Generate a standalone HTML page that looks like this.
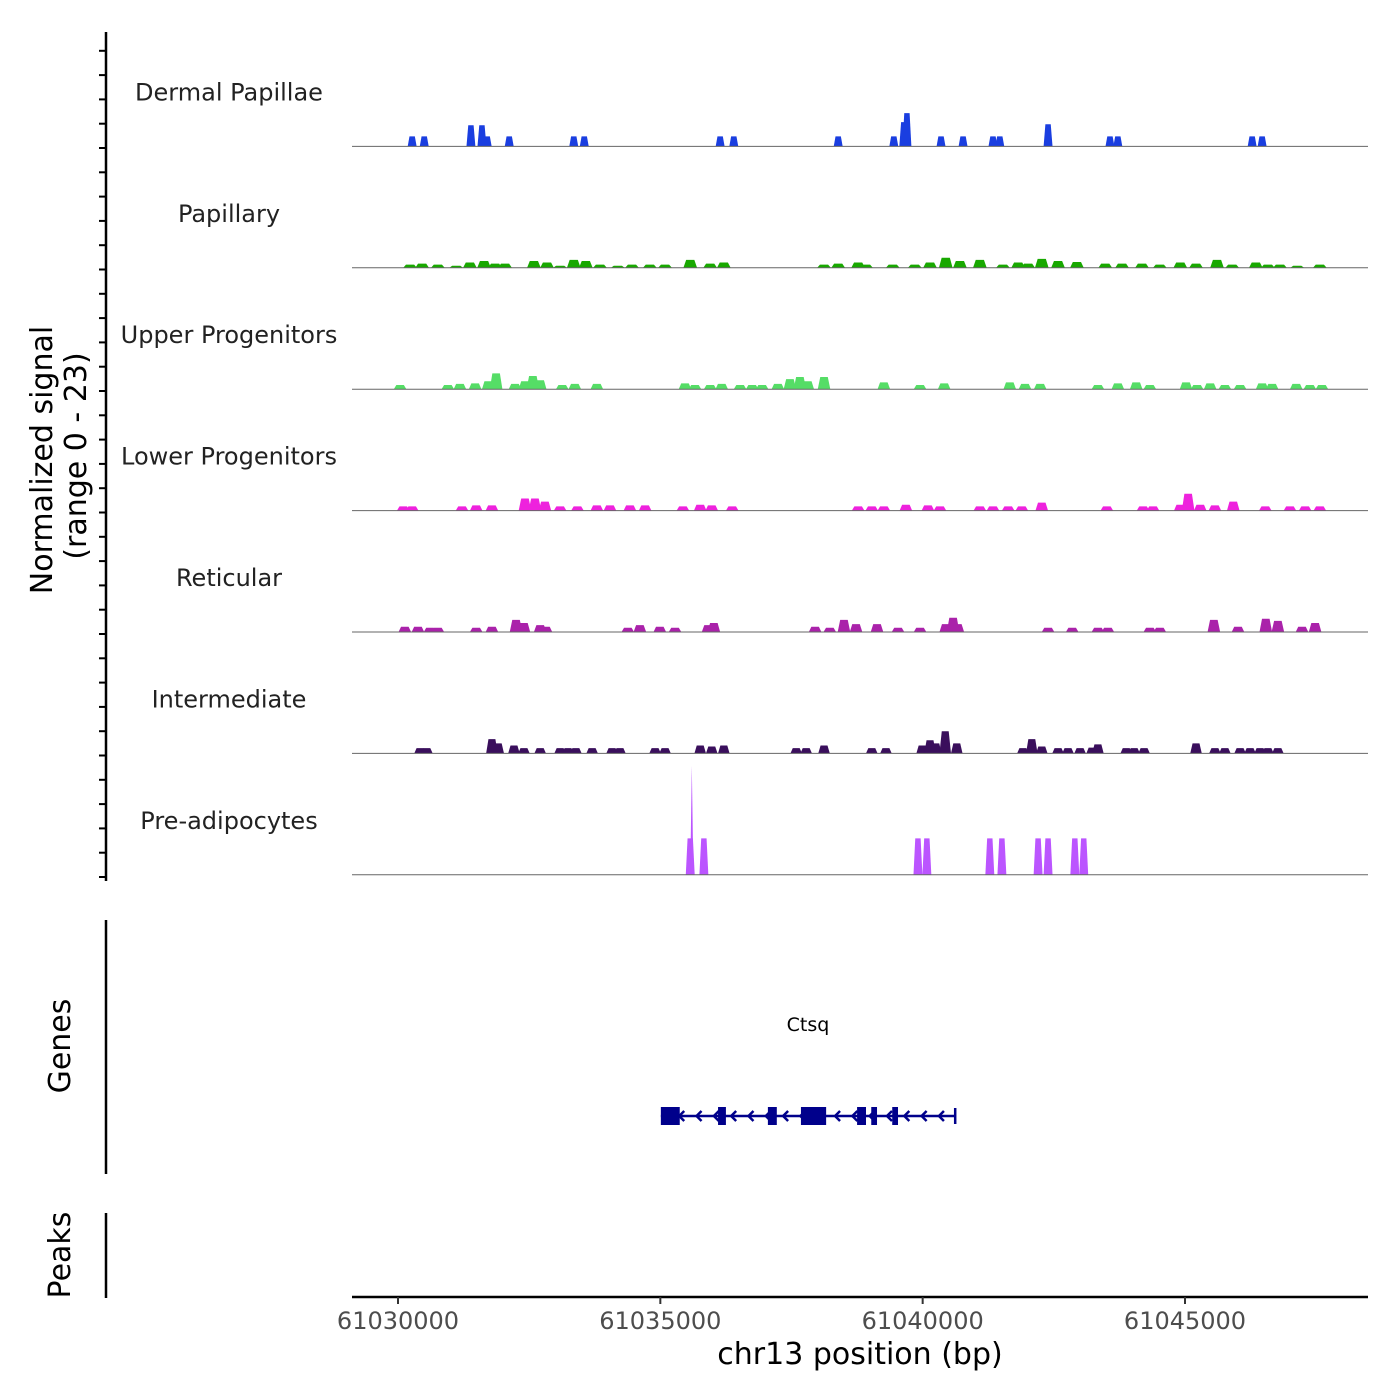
<!DOCTYPE html>
<html><head><meta charset="utf-8"><style>
html,body{margin:0;padding:0;background:#fff;}
svg{display:block;font-family:"DejaVu Sans","Liberation Sans",sans-serif;}
</style></head><body>
<svg id="chart" width="1400" height="1400" viewBox="0 0 1400 1400" xmlns="http://www.w3.org/2000/svg">
<g id="tracks"></g>
<g id="ylabels"></g>
<line x1="106" y1="32" x2="106" y2="881" stroke="#000" stroke-width="2.5"/>
<g id="yticks"></g>
<text transform="translate(52,460) rotate(-90)" text-anchor="middle" font-size="30">Normalized signal</text>
<text transform="translate(86,456) rotate(-90)" text-anchor="middle" font-size="30">(range 0 - 23)</text>
<line x1="106" y1="920" x2="106" y2="1174" stroke="#000" stroke-width="2.5"/>
<text transform="translate(70,1046) rotate(-90)" text-anchor="middle" font-size="30">Genes</text>
<g id="gene"></g>
<line x1="106" y1="1213" x2="106" y2="1298" stroke="#000" stroke-width="2.5"/>
<text transform="translate(70,1255) rotate(-90)" text-anchor="middle" font-size="30">Peaks</text>
<line x1="352" y1="1297" x2="1368" y2="1297" stroke="#000" stroke-width="2.5"/>
<g id="xticks"></g>
<text x="860" y="1364" text-anchor="middle" font-size="30">chr13 position (bp)</text>
</svg>
<script>
const regionStart = 61030000;
const xTickValues = [61030000, 61035000, 61040000, 61045000];
const trackNames = ["Dermal Papillae","Papillary","Upper Progenitors","Lower Progenitors","Reticular","Intermediate","Pre-adipocytes"];
const trackColors = ["#1a3ee0","#18a800","#55dd66","#ee22dd","#aa22aa","#3a0f5c","#bb55ff"];
const yMax = 23;
// positions in kb offset from regionStart, heights in normalized signal
const dpPos = [0.27,0.50,1.39,1.60,1.70,2.12,3.35,3.55,6.14,6.40,8.39,9.45,9.64,9.70,10.35,10.77,11.34,11.47,12.39,13.57,13.72,16.28,16.47];
const dpVal = [1.9,1.9,4,4,1.9,1.9,1.9,1.9,1.9,1.9,1.9,1.9,4.6,6.3,1.9,1.9,1.9,1.9,4.2,1.9,1.9,1.9,1.9];
const papPos = [0.23,0.46,0.76,1.11,1.37,1.64,1.85,2.04,2.59,2.84,3.09,3.35,3.58,3.85,4.19,4.46,4.80,5.09,5.57,5.95,6.21,8.12,8.39,8.77,8.92,9.43,9.85,10.14,10.44,10.71,11.09,11.53,11.82,12.01,12.27,12.58,12.94,13.48,13.80,14.18,14.52,14.91,15.21,15.61,15.90,16.35,16.58,16.81,17.14,17.57];
const papVal = [0.6,0.8,0.6,0.4,1.0,1.3,0.8,0.8,1.3,1.0,0.4,1.5,1.3,0.6,0.4,0.6,0.6,0.6,1.5,0.8,1.0,0.6,0.8,1.0,0.6,0.6,0.6,1.0,1.9,1.3,1.5,0.6,1.0,0.8,1.7,1.3,1.1,0.8,0.8,0.8,0.6,1.0,0.8,1.5,0.6,1.0,0.6,0.6,0.4,0.6];
const upPos = [0.04,0.95,1.18,1.47,1.72,1.87,2.23,2.42,2.57,2.71,3.13,3.37,3.79,5.47,5.66,5.95,6.17,6.52,6.75,6.94,7.24,7.47,7.66,7.81,8.12,9.26,9.95,10.41,11.66,11.95,12.24,13.34,13.72,14.07,14.33,15.02,15.23,15.48,15.76,16.05,16.47,16.66,17.12,17.38,17.61];
const upVal = [0.8,0.8,1.0,1.1,1.5,3.0,1.0,1.5,2.5,1.7,0.8,1.0,1.0,1.1,0.8,0.8,1.0,0.8,0.8,0.8,1.0,1.9,2.3,1.5,2.3,1.3,0.8,1.1,1.3,1.0,1.0,0.8,1.1,1.3,0.8,1.3,0.8,1.1,0.8,0.8,1.1,1.0,1.0,0.8,0.8];
const lowPos = [0.10,0.27,1.22,1.49,1.79,2.42,2.61,2.80,3.09,3.42,3.79,4.04,4.42,4.71,5.43,5.76,5.98,6.37,8.77,9.03,9.26,9.68,10.10,10.33,11.09,11.34,11.63,11.89,12.27,13.51,14.20,14.39,14.91,15.06,15.29,15.57,15.92,16.53,17.00,17.29,17.57];
const lowVal = [0.8,0.8,0.8,1.0,1.0,2.3,2.3,1.7,0.8,0.8,1.0,1.0,1.0,1.0,0.8,1.1,1.0,0.8,0.8,0.8,0.8,1.1,1.0,0.8,0.8,0.8,0.8,0.8,1.5,0.8,0.8,0.8,1.1,3.2,1.1,1.0,1.7,0.8,0.8,0.8,0.8];
const retPos = [0.13,0.38,0.61,0.76,1.49,1.79,2.25,2.40,2.71,2.82,4.38,4.61,4.99,5.28,5.91,6.02,7.95,8.23,8.50,8.73,9.13,9.53,9.95,10.44,10.58,10.67,12.39,12.85,13.34,13.53,14.33,14.52,15.55,16.01,16.54,16.77,17.23,17.48];
const retVal = [1.0,1.0,0.8,0.8,0.8,1.0,2.3,1.7,1.3,1.0,0.8,1.3,1.0,0.8,1.3,1.7,1.0,0.8,2.3,1.5,1.5,0.8,0.8,1.5,2.7,1.5,0.8,0.8,0.8,0.8,0.8,0.8,2.3,1.0,2.5,2.1,1.0,1.7];
const intPos = [0.42,0.55,1.79,1.91,2.21,2.40,2.71,3.09,3.24,3.39,3.70,4.08,4.23,4.90,5.09,5.76,5.98,6.21,7.59,7.78,8.12,9.03,9.30,9.99,10.14,10.25,10.43,10.65,11.91,12.08,12.27,12.58,12.77,13.00,13.23,13.34,13.88,14.03,14.22,15.21,15.57,15.76,16.05,16.24,16.43,16.58,16.77];
const intVal = [1.0,1.0,2.7,1.9,1.5,1.0,1.0,1.0,1.0,1.0,1.0,1.0,1.0,1.0,1.0,1.5,1.3,1.5,1.0,1.0,1.5,1.0,1.0,1.5,2.5,1.9,4.2,1.9,1.0,2.7,1.3,1.0,1.0,1.0,1.1,1.7,1.0,1.0,1.0,1.9,1.0,1.0,1.0,1.0,1.0,1.0,1.0];
const prePos = [5.57,5.60,5.83,9.91,10.08,11.28,11.51,12.20,12.39,12.90,13.07];
const preVal = [6.9,20.7,6.9,6.9,6.9,6.9,6.9,6.9,6.9,6.9,6.9];
const trackPos = [dpPos,papPos,upPos,lowPos,retPos,intPos,prePos];
const trackVal = [dpVal,papVal,upVal,lowVal,retVal,intVal,preVal];
const trackWidthKb = [0.17,0.26,0.24,0.24,0.24,0.22,0.17];
const geneName = "Ctsq";
const geneStartKb = 5.01, geneEndKb = 10.62;
const exonStartKb = [5.01,6.10,7.05,7.68,8.75,9.02,9.42];
const exonEndKb = [5.37,6.25,7.22,8.16,8.92,9.13,9.53];

const NS = "http://www.w3.org/2000/svg";
function xScale(bp){ return 398 + (bp - 61030000) * (1185 - 398) / 15000; }
function xKb(kb){ return xScale(regionStart + kb * 1000); }
const trackTop = 25, trackH = 121.4;
function baseY(i){ return trackTop + (i + 1) * trackH; }
function yScale(i, v){ return baseY(i) - v / yMax * trackH; }
function mk(tag, attrs, parent){ const e = document.createElementNS(NS, tag); for (const k in attrs) e.setAttribute(k, attrs[k]); parent.appendChild(e); return e; }

const tracks = document.getElementById('tracks');
const ylabels = document.getElementById('ylabels');
trackNames.forEach((name, i) => {
  const g = mk('g', {}, tracks);
  
  
  const pos = trackPos[i], val = trackVal[i];
  pos.forEach((p, j) => {
    const spike = (i === 6 && val[j] > 10);
    const hw = spike ? 0.03 : trackWidthKb[i] / 2;
    const x0 = xKb(p - hw), x1 = xKb(p + hw);
    const tw = (x1 - x0) * 0.2;
    const yb = baseY(i), yt = yScale(i, val[j]);
    const pts = spike
      ? `${x0},${yb} ${(x0 + x1) / 2},${yt} ${x1},${yb}`
      : `${x0},${yb} ${x0 + tw},${yt} ${x1 - tw},${yt} ${x1},${yb}`;
    const el = mk('polygon', { points: pts, fill: trackColors[i] }, g);
    
    
  });
  const bl = mk('line', { x1: 352, x2: 1368, y1: baseY(i), y2: baseY(i), stroke: '#666', 'stroke-width': 1 }, g);
  
  
  const t = mk('text', { x: 229, y: baseY(i) - 46, 'text-anchor': 'middle', 'font-size': 24, fill: '#222' }, ylabels);
  t.textContent = name;
  
  
});

const yt = document.getElementById('yticks');
for (let y = 877; y > 30; y -= 24.3) {
  const l = mk('line', { x1: 99, x2: 106, y1: y, y2: y, stroke: '#000', 'stroke-width': 2 }, yt);
  
  
}

const xt = document.getElementById('xticks');
xTickValues.forEach(v => {
  const x = xScale(v);
  const l = mk('line', { x1: x, x2: x, y1: 1297, y2: 1304, stroke: '#333', 'stroke-width': 2 }, xt);
  
  
  const t = mk('text', { x: x, y: 1329, 'text-anchor': 'middle', 'font-size': 24, fill: '#4d4d4d' }, xt);
  t.textContent = String(v);
  
  
});

const gg = document.getElementById('gene');
const gy = 1116, navy = '#00008b';
const gl = mk('line', { x1: xKb(geneStartKb), x2: xKb(geneEndKb), y1: gy, y2: gy, stroke: navy, 'stroke-width': 2.5 }, gg);


const ge = mk('line', { x1: xKb(geneEndKb), x2: xKb(geneEndKb), y1: gy - 8, y2: gy + 8, stroke: navy, 'stroke-width': 2.5 }, gg);


for (let kb = geneStartKb + 0.35; kb < geneEndKb - 0.1; kb += 0.33) {
  const x = xKb(kb);
  const c = mk('polyline', { points: `${x + 5},${gy - 5} ${x},${gy} ${x + 5},${gy + 5}`, fill: 'none', stroke: navy, 'stroke-width': 2.5 }, gg);
  
  
}
exonStartKb.forEach((s, i) => {
  const x0 = xKb(s), x1 = xKb(exonEndKb[i]);
  const r = mk('rect', { x: x0, y: gy - 9, width: x1 - x0, height: 18, fill: navy }, gg);
  
  
});
const gt = mk('text', { x: 808, y: 1031, 'text-anchor': 'middle', 'font-size': 19, fill: '#000' }, gg);
gt.textContent = geneName;


</script>
</body></html>
